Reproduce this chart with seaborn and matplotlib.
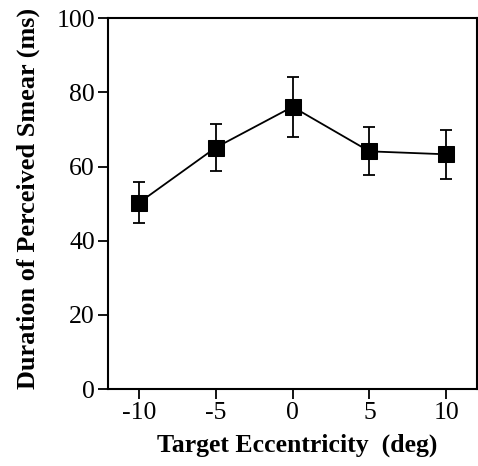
import numpy as np
import pandas as pd
import seaborn as sns
import matplotlib.pyplot as plt

# Data
eccentricity = [-10, -5, 0, 5, 10]
smear_ms = [50.2, 65.1, 76.1, 64.1, 63.3]
smear_err = [5.5, 6.3, 8.0, 6.5, 6.6]
xtick_labels = ['-10', '-5', '0', '5', '10']

df = pd.DataFrame({'ecc': eccentricity, 'smear': smear_ms, 'err': smear_err})

sns.set_style('ticks')
plt.rcParams['font.family'] = ['Liberation Serif', 'DejaVu Serif']
plt.rcParams['text.color'] = 'black'
plt.rcParams['axes.labelcolor'] = 'black'

fig = plt.figure(figsize=(4.78, 4.66), dpi=100)
ax = fig.add_axes([0.226, 0.165, 0.772, 0.796])

# Error bars
ax.errorbar(df['ecc'], df['smear'], yerr=df['err'], fmt='none',
            ecolor='black', elinewidth=1.3, capsize=4, capthick=1.3, zorder=2)

# Line with square markers
sns.lineplot(data=df, x='ecc', y='smear', marker='s', markersize=11.5,
             color='black', linewidth=1.3, markeredgecolor='black', ax=ax, zorder=3)

ax.set_xlim(-12, 12)
ax.set_ylim(0, 100)
ax.set_xticks(eccentricity)
ax.set_xticklabels(xtick_labels)
ax.set_yticks([0, 20, 40, 60, 80, 100])

ax.tick_params(axis='both', labelsize=18.5, width=1.3, length=7.5, direction='out',
               colors='black', pad=2)
for side in ['left', 'right', 'top', 'bottom']:
    ax.spines[side].set_visible(True)
    ax.spines[side].set_linewidth(1.5)
    ax.spines[side].set_color('black')

ax.set_xlabel('Target Eccentricity  (deg)', fontsize=18.5, fontweight='bold', labelpad=7)
ax.set_ylabel('Duration of Perceived Smear (ms)', fontsize=18.9, fontweight='bold', labelpad=12)
ax.xaxis.label.set_x(0.513)
ax.yaxis.label.set_y(0.513)

fig.savefig('out.png', dpi=100)
